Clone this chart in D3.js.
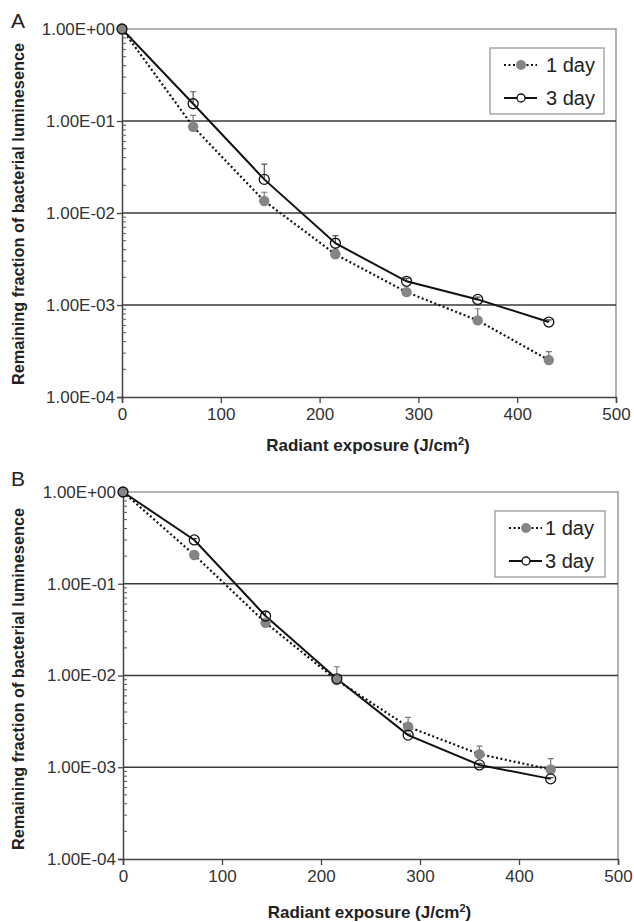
<!DOCTYPE html>
<html>
<head>
<meta charset="utf-8">
<script src="https://cdn.jsdelivr.net/npm/d3@7"></script>
<style>
  body { margin: 0; background: #fff; }
  svg { font-family: "Liberation Sans", Arial, sans-serif; }
</style>
</head>
<body>
<div id="chart"></div>
<script>
// x values (J/cm2) shared by both panels
var exposure = [0, 72, 144, 216, 288, 360, 432];

// panel A
var aDay1 = [1, 0.0867, 0.0135, 0.00356, 0.00138, 0.00068, 0.000252];
var aDay1Err = [1, 0.115, 0.0168, 0.0040, 0.00152, 0.00091, 0.000311];
var aDay3 = [1, 0.154, 0.0232, 0.00469, 0.00181, 0.00115, 0.000653];
var aDay3Err = [1, 0.208, 0.034, 0.00567, 0.00195, 0.00122, 0.00069];

// panel B
var bDay1 = [1, 0.206, 0.0376, 0.0089, 0.00276, 0.00139, 0.000946];
var bDay1Err = [1, 0.225, 0.041, 0.01245, 0.00349, 0.0017, 0.00124];
var bDay3 = [1, 0.30, 0.0445, 0.0092, 0.00224, 0.00106, 0.000747];
var bDay3Err = [1, 0.31, 0.0495, 0.0098, 0.0023, 0.0011, 0.00077];

var yTicks = [1, 0.1, 0.01, 0.001, 0.0001];
var yTickLabels = ["1.00E+00", "1.00E-01", "1.00E-02", "1.00E-03", "1.00E-04"];
var xTicks = [0, 100, 200, 300, 400, 500];
var seriesNames = ["1 day", "3 day"];

var svg = d3.select("#chart").append("svg")
  .attr("width", 634)
  .attr("height", 922);

function drawPanel(p) {
  var x = d3.scaleLinear().domain([0, 500]).range([p.left, p.right]);
  var y = d3.scaleLog().domain([0.0001, 1]).range([p.bottom, p.top]);
  var g = svg.append("g");

  // top / right frame
  g.append("path")
    .attr("d", `M${p.left},${p.top}H${p.right}V${p.bottom}`)
    .attr("fill", "none").attr("stroke", "#9a9a9a").attr("stroke-width", 1.5);

  // gridlines
  g.selectAll(".grid").data(yTicks.slice(1, 4)).enter().append("line")
    .attr("x1", p.left).attr("x2", p.right)
    .attr("y1", d => y(d)).attr("y2", d => y(d))
    .attr("stroke", "#3a3a3a").attr("stroke-width", 1.3);

  // y axis
  var yAxis = d3.axisLeft(y).tickValues(yTicks)
    .tickFormat((d, i) => yTickLabels[i]).tickSize(5).tickPadding(2);
  var ya = g.append("g").attr("transform", `translate(${p.left},0)`).call(yAxis);
  ya.select(".domain").attr("stroke", "#444").attr("stroke-width", 1.5);
  ya.selectAll(".tick line").attr("stroke", "#444").attr("stroke-width", 1.3);
  ya.selectAll("text").attr("font-size", 17).attr("fill", "#333");

  // minor log ticks
  var minor = [];
  yTicks.slice(1).forEach(function(base) {
    for (var k = 2; k <= 9; k++) minor.push(base * k);
  });
  g.selectAll(".minor").data(minor).enter().append("line")
    .attr("x1", p.left).attr("x2", p.left + 4)
    .attr("y1", d => y(d)).attr("y2", d => y(d))
    .attr("stroke", "#555").attr("stroke-width", 1);

  // x axis
  var xAxis = d3.axisBottom(x).tickValues(xTicks).tickSize(6).tickPadding(5);
  var xa = g.append("g").attr("transform", `translate(0,${p.bottom})`).call(xAxis);
  xa.select(".domain").attr("stroke", "#444").attr("stroke-width", 1.5);
  xa.selectAll(".tick line").attr("stroke", "#444").attr("stroke-width", 1.3);
  xa.selectAll("text").attr("font-size", 17).attr("fill", "#333");

  // axis titles
  var xt = g.append("text")
    .attr("x", (p.left + p.right) / 2 - 1).attr("y", p.xTitleY)
    .attr("text-anchor", "middle").attr("font-weight", "bold")
    .attr("font-size", 17).attr("fill", "#222");
  xt.append("tspan").text("Radiant exposure (J/cm");
  xt.append("tspan").attr("font-size", 11).attr("dy", -6).text("2");
  xt.append("tspan").attr("dy", 6).text(")");

  g.append("text")
    .attr("transform", `translate(24,${p.yTitleC}) rotate(-90)`)
    .attr("text-anchor", "middle").attr("font-weight", "bold")
    .attr("font-size", 16.3).attr("fill", "#222")
    .text("Remaining fraction of bacterial luminesence");

  g.append("text").attr("x", 11).attr("y", p.labelY)
    .attr("font-size", 21).attr("fill", "#222").text(p.label);

  var line = d3.line().x((d, i) => x(exposure[i])).y(d => y(d));

  // error bars (upper only)
  function errBars(vals, errs, color) {
    var idx = d3.range(1, vals.length);
    g.selectAll(null).data(idx).enter().append("path")
      .attr("d", i => `M${x(exposure[i])},${y(vals[i])}V${y(errs[i])}M${x(exposure[i]) - 3},${y(errs[i])}h6`)
      .attr("fill", "none").attr("stroke", color).attr("stroke-width", 1.2);
  }
  errBars(p.d1, p.d1e, "#777");
  errBars(p.d3, p.d3e, "#555");

  // lines
  g.append("path").datum(p.d1).attr("d", line)
    .attr("fill", "none").attr("stroke", "#111").attr("stroke-width", 2.2)
    .attr("stroke-dasharray", "2,2.5");
  g.append("path").datum(p.d3).attr("d", line)
    .attr("fill", "none").attr("stroke", "#111").attr("stroke-width", 2);

  // markers
  g.selectAll(null).data(p.d1).enter().append("circle")
    .attr("cx", (d, i) => x(exposure[i])).attr("cy", d => y(d))
    .attr("r", 5.2).attr("fill", "#858585");
  g.selectAll(null).data(p.d3).enter().append("circle")
    .attr("cx", (d, i) => x(exposure[i])).attr("cy", d => y(d))
    .attr("r", 5).attr("fill", "none").attr("stroke", "#111").attr("stroke-width", 1.3);

  // legend
  var lg = g.append("g").attr("transform", `translate(${p.legX},${p.legY})`);
  lg.append("rect").attr("width", p.legW).attr("height", 66)
    .attr("fill", "#fff").attr("stroke", "#9a9a9a").attr("stroke-width", 1.3);
  seriesNames.forEach(function(name, k) {
    var cy = 17 + k * 33;
    lg.append("line").attr("x1", 14).attr("x2", 47).attr("y1", cy).attr("y2", cy)
      .attr("stroke", "#111").attr("stroke-width", k === 0 ? 2.2 : 2)
      .attr("stroke-dasharray", k === 0 ? "2,2.5" : null);
    if (k === 0) {
      lg.append("circle").attr("cx", 31).attr("cy", cy).attr("r", 5).attr("fill", "#858585");
    } else {
      lg.append("circle").attr("cx", 31).attr("cy", cy).attr("r", 4)
        .attr("fill", "#fff").attr("stroke", "#111").attr("stroke-width", 1.3);
    }
    lg.append("text").attr("x", p.legTextX).attr("y", cy + 7)
      .attr("font-size", 20).attr("fill", "#222").text(name);
  });
}

drawPanel({ label: "A", labelY: 28, left: 122, right: 616, top: 29, bottom: 397, xTitleY: 451, yTitleC: 214,
  d1: aDay1, d1e: aDay1Err, d3: aDay3, d3e: aDay3Err,
  legX: 490, legY: 48, legW: 114, legTextX: 56 });
drawPanel({ label: "B", labelY: 486, left: 123, right: 618, top: 492, bottom: 859, xTitleY: 918, yTitleC: 679,
  d1: bDay1, d1e: bDay1Err, d3: bDay3, d3e: bDay3Err,
  legX: 495, legY: 511, legW: 110, legTextX: 50 });
</script>
</body>
</html>
